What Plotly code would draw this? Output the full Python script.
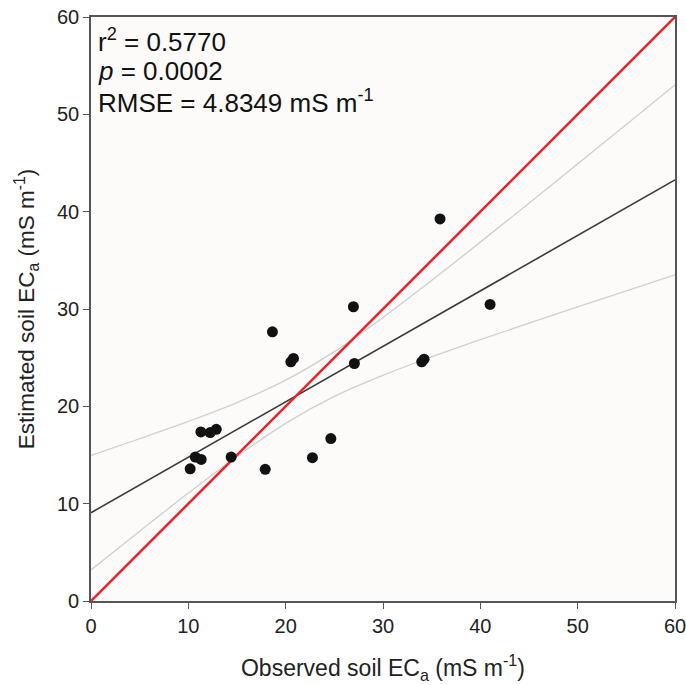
import plotly.graph_objects as go

# Observed vs estimated soil ECa (mS m-1)
observed = [10.19, 10.71, 11.32, 11.29, 12.25, 12.87, 14.40, 17.90, 18.64, 20.53,
            20.80, 22.75, 24.64, 26.96, 27.06, 33.98, 34.22, 35.86, 41.00]
estimated = [13.58, 14.79, 14.54, 17.37, 17.30, 17.64, 14.79, 13.53, 27.65, 24.57,
             24.92, 14.73, 16.69, 30.23, 24.40, 24.57, 24.85, 39.25, 30.47]

# 1:1 line
one_x = [0, 60]
one_y = [0, 60]

# regression line
fit_x = [0, 60]
fit_y = [9.07, 43.26]

# confidence band
band_x = [0, 5, 10, 15, 20, 25, 30, 35, 40, 45, 50, 55, 60]
band_upper = [14.95, 16.67, 18.45, 20.39, 22.69, 25.62, 29.13, 32.94, 36.87, 40.87, 44.91, 48.96, 53.02]
band_lower = [3.19, 7.17, 11.09, 14.85, 18.25, 21.02, 23.19, 25.08, 26.85, 28.55, 30.21, 31.86, 33.50]

ticks = [0, 10, 20, 30, 40, 50, 60]

FONT = "Liberation Sans, Arial, sans-serif"

fig = go.Figure()
fig.add_trace(go.Scatter(x=band_x, y=band_upper, mode="lines",
                         line=dict(color="#cfcfcf", width=1.3, shape="spline"), hoverinfo="skip"))
fig.add_trace(go.Scatter(x=band_x, y=band_lower, mode="lines",
                         line=dict(color="#cfcfcf", width=1.3, shape="spline"), hoverinfo="skip"))
fig.add_trace(go.Scatter(x=fit_x, y=fit_y, mode="lines",
                         line=dict(color="#3a3a3a", width=1.6)))
fig.add_trace(go.Scatter(x=one_x, y=one_y, mode="lines",
                         line=dict(color="#e8262a", width=2.6)))
fig.add_trace(go.Scatter(x=observed, y=estimated, mode="markers",
                         marker=dict(color="#111111", size=11)))

axis_common = dict(range=[0, 60], tickvals=ticks, ticks="outside", ticklen=6, tickwidth=1.3,
                   tickcolor="#555555", showline=True, linecolor="#555555", linewidth=1.6,
                   mirror=True, showgrid=False, zeroline=False, automargin=False,
                   ticklabeloverflow="allow",
                   tickfont=dict(family=FONT, size=20, color="#222222"))

fig.update_xaxes(**axis_common,
                 title=dict(text="Observed soil EC<sub>a</sub> (mS m<sup>-1</sup>)",
                            font=dict(family=FONT, size=23, color="#222222"), standoff=24))
fig.update_yaxes(**axis_common,
                 title=dict(text="Estimated soil EC<sub>a</sub> (mS m<sup>-1</sup>)",
                            font=dict(family=FONT, size=22.5, color="#222222"), standoff=16))

ann_font = dict(family=FONT, size=26, color="#111111")
fig.add_annotation(x=0.5, y=57.6, xref="x", yref="y", text="r<sup>2</sup> = 0.5770",
                   showarrow=False, xanchor="left", yanchor="middle", font=ann_font)
fig.add_annotation(x=0.5, y=54.5, xref="x", yref="y", text="<i>p</i> = 0.0002",
                   showarrow=False, xanchor="left", yanchor="middle", font=ann_font)
fig.add_annotation(x=0.5, y=51.3, xref="x", yref="y", text="RMSE = 4.8349 mS m<sup>-1</sup>",
                   showarrow=False, xanchor="left", yanchor="middle", font=ann_font)

fig.update_layout(width=686, height=685, showlegend=False,
                  margin=dict(l=91, r=11, t=17, b=84),
                  plot_bgcolor="#fcfbfa", paper_bgcolor="white")

fig.write_html("out.html")
